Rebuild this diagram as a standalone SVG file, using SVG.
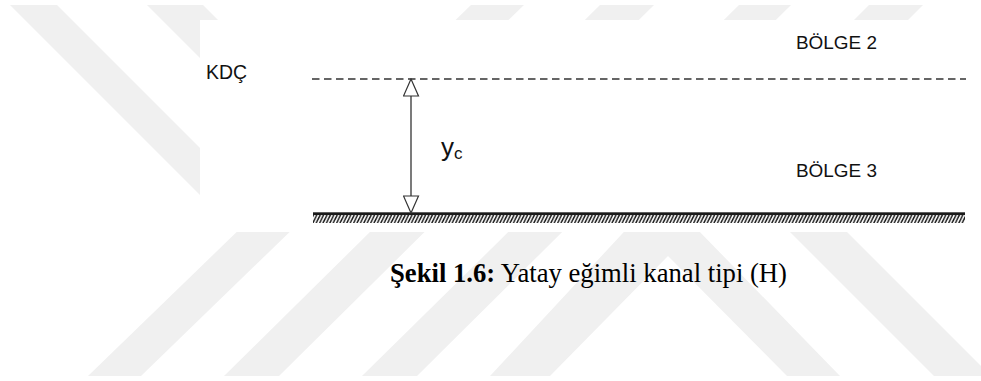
<svg xmlns="http://www.w3.org/2000/svg" width="981" height="381" viewBox="0 0 981 381">
  <style>
    .wm { fill: #f0f0f0; }
    .lbl { font-family: "Liberation Sans", Arial, sans-serif; fill: #111; }
    .cap { font-family: "Liberation Serif", "Times New Roman", serif; fill: #000; font-size: 27px; }
  </style>
  <defs>
    <pattern id="hatch" patternUnits="userSpaceOnUse" x="313" y="215" width="3.4" height="8">
      <path d="M-3.6,8 L0.4,0 M-0.2,8 L3.8,0 M3.2,8 L7.2,0" stroke="#1a1a1a" stroke-width="1.5" fill="none"/>
    </pattern>
    <marker id="openArrow" viewBox="0 0 19 17" refX="18" refY="8.5" markerUnits="userSpaceOnUse" markerWidth="19" markerHeight="17" orient="auto-start-reverse">
      <path d="M1,1 L18,8.5 L1,16 z" fill="#fff" stroke="#333" stroke-width="1.2" stroke-linejoin="miter"/>
    </marker>
  </defs>

  <rect x="0" y="0" width="981" height="381" fill="#fff"/>

  <g id="watermark">
    <polygon class="wm" points="10,5 57,5 280,228 233,228"/>
    <polygon class="wm" points="147,5 203,5 300,102 244,102"/>
    <polygon class="wm" points="471,5 524,5 141,376 88,376"/>
    <polygon class="wm" points="600,5 654,5 279,376 224,376"/>
    <polygon class="wm" points="739,5 791,5 417,376 362,376"/>
    <polygon class="wm" points="869,5 923,5 900,28 846,28"/>
    <polygon class="wm" points="661,192 840,376 787,376 668,256 550,376 490,376"/>
    <polygon class="wm" points="783,225 840,225 991,376 934,376"/>
  </g>

  <rect id="panel" x="200" y="20" width="781" height="212" fill="#fff"/>

  <g id="critical-depth-line">
    <line x1="312" y1="79" x2="966" y2="79" stroke="#333" stroke-width="1.5" stroke-dasharray="7.5 4.5"/>
  </g>

  <g id="channel-bed">
    <rect x="313" y="212.3" width="652" height="2.8" fill="#1a1a1a"/>
    <rect x="313" y="215" width="652" height="8" fill="url(#hatch)"/>
  </g>

  <g id="connectors">
    <line x1="411" y1="79" x2="411" y2="213" stroke="#333" stroke-width="1.3" marker-start="url(#openArrow)" marker-end="url(#openArrow)"/>
  </g>

  <g id="label-kdc">
    <text class="lbl" x="206" y="79" font-size="19.5" textLength="41" lengthAdjust="spacingAndGlyphs">KDÇ</text>
  </g>
  <g id="label-bolge2">
    <text class="lbl" x="796" y="49" font-size="19" textLength="81" lengthAdjust="spacingAndGlyphs">BÖLGE 2</text>
  </g>
  <g id="label-bolge3">
    <text class="lbl" x="796" y="177" font-size="19" textLength="81" lengthAdjust="spacingAndGlyphs">BÖLGE 3</text>
  </g>
  <g id="label-yc">
    <text class="lbl" x="441" y="156" font-size="26">y<tspan font-size="17" dy="3">c</tspan></text>
  </g>

  <g id="caption">
    <text class="cap" x="390" y="282" textLength="397" lengthAdjust="spacingAndGlyphs"><tspan font-weight="bold">Şekil 1.6:</tspan> Yatay eğimli kanal tipi (H)</text>
  </g>
</svg>
